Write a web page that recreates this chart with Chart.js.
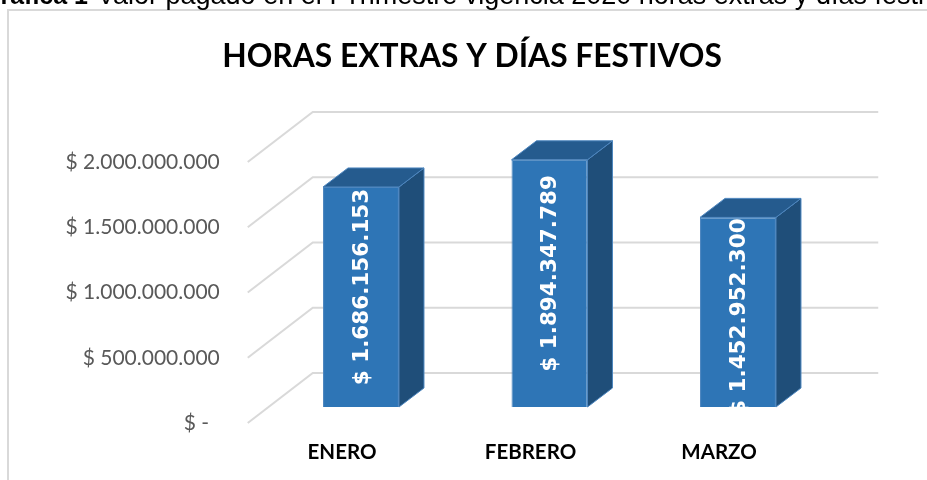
<!DOCTYPE html>
<html><head><meta charset="utf-8">
<script src="https://cdn.jsdelivr.net/npm/chart.js@4.4.1/dist/chart.umd.min.js"></script>
<style>html,body{margin:0;padding:0;background:#fff;overflow:hidden}#wrap{position:relative;width:927px;height:480px}canvas{display:block}</style>
</head><body><div id="wrap"><canvas id="c" width="927" height="480"></canvas></div>
<script>
// ---- data ----
const categories = ['ENERO', 'FEBRERO', 'MARZO'];
const values = [1686156153, 1894347789, 1452952300];
const yTickValues = [0, 500000000, 1000000000, 1500000000, 2000000000];
const yTickLabels = ['$ -  ', '$ 500.000.000', '$ 1.000.000.000', '$ 1.500.000.000', '$ 2.000.000.000'];
const chartTitle = 'HORAS EXTRAS Y DÍAS FESTIVOS';
const captionBold = 'Gráfica 1';
const captionText = 'Valor pagado en el I Trimestre vigencia 2020 horas extras y días festivos';

// ---- styles ----
const FRONT = '#2e75b6', TOP = '#255b8e', SIDE = '#1f4e79', EDGE = '#4d86bf';
const GRID = '#d9d9d9';
const WALL = {dx: 65, dy: -50};
const BAR_OFF = {dx: 19, dy: -16};
const BAR_DEPTH = {dx: 25, dy: -19};

function fmtMoney(v) {
  return '$ ' + String(Math.round(v)).replace(/\B(?=(\d{3})+(?!\d))/g, '.');
}
function fitSize(text, weight, family, target) {
  const c = document.createElement('canvas').getContext('2d');
  c.font = weight + ' 100px ' + family;
  return 100 * target / c.measureText(text).width;
}
const titleSize = fitSize(chartTitle, 'bold', 'Lato', 500);

const threeD = {
  id: 'threeD',
  beforeDraw(chart) {
    const ctx = chart.ctx;
    ctx.save();
    ctx.fillStyle = '#fff';
    ctx.fillRect(0, 0, chart.width, chart.height);
    ctx.strokeStyle = GRID; ctx.lineWidth = 2;
    ctx.strokeRect(8, 10, 1200, 1200);
    ctx.fillStyle = '#000'; ctx.textBaseline = 'alphabetic'; ctx.textAlign = 'left';
    ctx.font = 'bold 25px "Liberation Sans"';
    ctx.fillText(captionBold, -19, 4);
    ctx.font = '27px "Liberation Sans"';
    ctx.fillText(captionText, 97, 4);
    ctx.font = 'bold ' + titleSize + 'px Lato';
    ctx.textAlign = 'center';
    ctx.fillText(chartTitle, 472, 67);
    ctx.restore();
  },
  beforeDatasetsDraw(chart) {
    const {ctx, chartArea: a, scales: {y}} = chart;
    ctx.save();
    ctx.strokeStyle = GRID; ctx.lineWidth = 2;
    y.ticks.forEach(t => {
      const py = y.getPixelForValue(t.value);
      ctx.beginPath();
      ctx.moveTo(a.left, py);
      ctx.lineTo(a.left + WALL.dx, py + WALL.dy);
      ctx.lineTo(a.right + WALL.dx, py + WALL.dy);
      ctx.stroke();
    });
    ctx.restore();
    const meta = chart.getDatasetMeta(0);
    ctx.save();
    ctx.translate(BAR_OFF.dx, BAR_OFF.dy);
    ctx.lineWidth = 1; ctx.strokeStyle = EDGE;
    meta.data.forEach(el => {
      const p = el.getProps(['x', 'y', 'base', 'width'], true);
      const l = p.x - p.width / 2, r = p.x + p.width / 2, t = p.y, b = p.base;
      const dx = BAR_DEPTH.dx, dy = BAR_DEPTH.dy;
      ctx.fillStyle = SIDE;
      ctx.beginPath();
      ctx.moveTo(r, t); ctx.lineTo(r + dx, t + dy); ctx.lineTo(r + dx, b + dy); ctx.lineTo(r, b);
      ctx.closePath(); ctx.fill(); ctx.stroke();
      ctx.fillStyle = TOP;
      ctx.beginPath();
      ctx.moveTo(l, t); ctx.lineTo(l + dx, t + dy); ctx.lineTo(r + dx, t + dy); ctx.lineTo(r, t);
      ctx.closePath(); ctx.fill(); ctx.stroke();
    });
    // stays translated while Chart.js draws the front faces
  },
  afterDatasetsDraw(chart) {
    const ctx = chart.ctx;
    ctx.restore();
    const meta = chart.getDatasetMeta(0);
    ctx.save();
    ctx.translate(BAR_OFF.dx, BAR_OFF.dy);
    ctx.font = 'bold 21.5px "DejaVu Sans"';
    ctx.fillStyle = '#fff';
    ctx.textAlign = 'center'; ctx.textBaseline = 'middle';
    meta.data.forEach((el, i) => {
      const p = el.getProps(['x', 'y', 'base', 'width'], true);
      const l = p.x - p.width / 2, t = p.y, b = p.base;
      const txt = fmtMoney(values[i]);
      const len = ctx.measureText(txt).width;
      let cy = (t + b) / 2 - 10;
      if (cy - len / 2 < t + 1) cy = t + 1 + len / 2;
      ctx.save();
      ctx.beginPath(); ctx.rect(l, t, p.width, b - t); ctx.clip();
      ctx.translate(p.x + 1, cy);
      ctx.rotate(-Math.PI / 2);
      ctx.fillText(txt, 0, 0);
      ctx.restore();
    });
    ctx.restore();
  }
};

new Chart(document.getElementById('c'), {
  type: 'bar',
  data: {
    labels: categories,
    datasets: [{
      data: values,
      backgroundColor: FRONT,
      borderColor: EDGE,
      borderWidth: 1,
      barPercentage: 1,
      categoryPercentage: 0.403,
      clip: false
    }]
  },
  options: {
    responsive: false,
    animation: false,
    layout: {padding: {top: 162, right: 113.75, bottom: 0, left: 0}},
    plugins: {legend: {display: false}, tooltip: {enabled: false}, title: {display: false}},
    scales: {
      x: {
        grid: {display: false, drawTicks: false},
        border: {display: false},
        ticks: {color: '#000', font: {family: 'Lato', size: 20.5, weight: 'bold'}, padding: 17},
        afterFit: s => { s.height = 57; }
      },
      y: {
        min: 0, max: 2000000000,
        afterBuildTicks: s => { s.ticks = yTickValues.map(v => ({value: v})); },
        grid: {display: false, drawTicks: false},
        border: {display: false},
        ticks: {
          color: '#595959', font: {family: 'Lato', size: 21}, padding: 28,
          callback: v => yTickLabels[yTickValues.indexOf(v)]
        },
        afterFit: s => { s.width = 247.75; }
      }
    }
  },
  plugins: [threeD]
});
</script>
</body></html>
